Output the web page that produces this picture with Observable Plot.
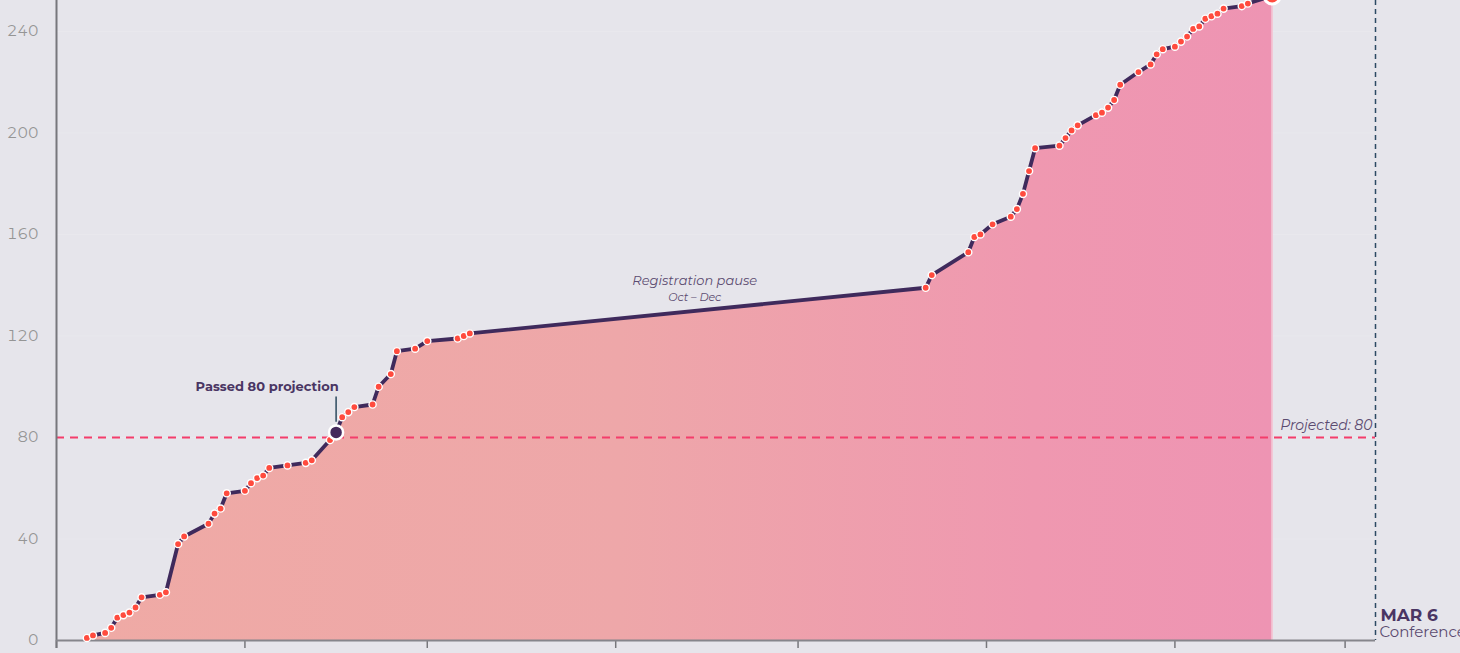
<!DOCTYPE html>
<html>
<head>
<meta charset="utf-8">
<script src="https://cdn.jsdelivr.net/npm/d3@7"></script>
<script src="https://cdn.jsdelivr.net/npm/@observablehq/plot@0.6"></script>
<style>
  html, body { margin: 0; padding: 0; background: #e6e5eb; overflow: hidden; }
  #chart { width: 1460px; height: 653px; }
</style>
</head>
<body>
<div id="chart"></div>
<script>
// Registration dates and cumulative counts
const dates = [
  "2024-08-06","2024-08-07","2024-08-09","2024-08-10","2024-08-11","2024-08-12","2024-08-13","2024-08-14","2024-08-15",
  "2024-08-18","2024-08-19","2024-08-21","2024-08-22","2024-08-26","2024-08-27","2024-08-28","2024-08-29",
  "2024-09-01","2024-09-02","2024-09-03","2024-09-04","2024-09-05","2024-09-08","2024-09-11","2024-09-12",
  "2024-09-15","2024-09-16","2024-09-17","2024-09-18","2024-09-19","2024-09-22","2024-09-23","2024-09-25",
  "2024-09-26","2024-09-29","2024-10-01","2024-10-06","2024-10-07","2024-10-08",
  "2024-12-22","2024-12-23","2024-12-29","2024-12-30","2024-12-31",
  "2025-01-02","2025-01-05","2025-01-06","2025-01-07","2025-01-08","2025-01-09","2025-01-13","2025-01-14",
  "2025-01-15","2025-01-16","2025-01-19","2025-01-20","2025-01-21","2025-01-22","2025-01-23","2025-01-26",
  "2025-01-28","2025-01-29","2025-01-30","2025-02-01","2025-02-02","2025-02-03","2025-02-04","2025-02-05",
  "2025-02-06","2025-02-07","2025-02-08","2025-02-09","2025-02-12","2025-02-13","2025-02-17"
];
const counts = [
  1,2,3,5,9,10,11,13,17,
  18,19,38,41,46,50,52,58,
  59,62,64,65,68,69,70,71,
  79,82,88,90,92,93,100,105,
  114,115,118,119,120,121,
  139,144,153,159,160,
  164,167,170,176,185,194,195,198,
  201,203,207,208,210,213,219,224,
  227,231,233,234,236,238,241,242,
  245,246,247,249,250,251,254
];
const yTicks = [0, 40, 80, 120, 160, 200, 240];
const xTicks = ["2024-08-01","2024-09-01","2024-10-01","2024-11-01","2024-12-01","2025-01-01","2025-02-01","2025-03-01"];
const projected = 80;
const passedDate = "2024-09-16";
const passedValue = 82;
const conferenceDate = "2025-03-06";
const startDate = "2024-08-01";
const pauseLabelDate = "2024-11-14";

const data = dates.map((d, i) => ({date: new Date(d), count: counts[i]}));
const last = data[data.length - 1];

const font = "Montserrat, Inter, 'Open Sans', sans-serif";

const gradientDefs = () => {
  const defs = d3.create("svg:defs");
  const g = defs.append("linearGradient").attr("id", "areaGrad").attr("x1", "0").attr("x2", "1").attr("y1", "0").attr("y2", "0");
  g.append("stop").attr("offset", "0%").attr("stop-color", "#efaaa5");
  g.append("stop").attr("offset", "45%").attr("stop-color", "#eea7a9");
  g.append("stop").attr("offset", "80%").attr("stop-color", "#ef98b0");
  g.append("stop").attr("offset", "100%").attr("stop-color", "#ee94b3");
  return defs.node();
};

const chart = Plot.plot({
  width: 1460,
  height: 653,
  marginLeft: 56,
  marginRight: 85,
  marginTop: 0,
  marginBottom: 13,
  style: {background: "#e6e5eb", fontFamily: font, overflow: "hidden"},
  x: {type: "utc", domain: [new Date(startDate), new Date(conferenceDate)]},
  y: {domain: [0, 252.2]},
  marks: [
    gradientDefs,
    Plot.gridY(yTicks, {stroke: "#ffffff", strokeOpacity: 0.14, strokeWidth: 1}),
    Plot.areaY(data, {x: "date", y: "count", fill: "url(#areaGrad)"}),
    Plot.ruleX([last.date], {y1: 0, y2: last.count, stroke: "#f4c6d4", strokeWidth: 1.5}),
    Plot.ruleY([projected], {stroke: "#f43d6b", strokeWidth: 2, strokeDasharray: "8,6"}),
    Plot.ruleX([new Date(conferenceDate)], {stroke: "#2c4a63", strokeWidth: 1.5, strokeDasharray: "5,4"}),
    Plot.axisY(yTicks, {tickSize: 0, tickPadding: 18, fontSize: 15, color: "#959595", label: null, fill: "#959595"}),
    Plot.ruleX([new Date(startDate)], {stroke: "#77777c", strokeWidth: 2, insetBottom: -8}),
    Plot.axisX(xTicks.map(d => new Date(d)), {tickSize: 8, stroke: "#77777c", strokeWidth: 1.5, tickFormat: () => "", label: null}),
    Plot.ruleY([0], {stroke: "#86868c", strokeWidth: 2}),
    Plot.lineY(data, {x: "date", y: "count", stroke: "#3f2a5c", strokeWidth: 3.8, strokeLinejoin: "round", strokeLinecap: "round"}),
    Plot.dot(data, {x: "date", y: "count", r: 3.6, fill: "#ff4b3e", stroke: "#ffffff", strokeWidth: 1.4}),
    Plot.dot([last], {x: "date", y: "count", r: 8, fill: "#ff4b3e", stroke: "#ffffff", strokeWidth: 3}),
    Plot.ruleX([new Date(passedDate)], {y1: 86, y2: 96, stroke: "#2c4a5f", strokeWidth: 1.5}),
    Plot.dot([{date: new Date(passedDate), count: passedValue}], {x: "date", y: "count", r: 7, fill: "#44295c", stroke: "#ffffff", strokeWidth: 2.5}),
    Plot.text(["Passed 80 projection"], {x: new Date(passedDate), y: 100, dx: -69, text: d => d, fontSize: 13, fontWeight: "bold", fill: "#4a3563"}),
    Plot.text(["Registration pause"], {x: new Date(pauseLabelDate), y: 141.9, text: d => d, fontSize: 13, fontStyle: "italic", fill: "#5b4b70"}),
    Plot.text(["Oct – Dec"], {x: new Date(pauseLabelDate), y: 135.2, text: d => d, fontSize: 11, fontStyle: "italic", fill: "#5b4b70"}),
    Plot.text(["Projected: 80"], {x: new Date(conferenceDate), y: projected, dx: -3, dy: -12, text: d => d, textAnchor: "end", fontSize: 14, fontStyle: "italic", fill: "#5b4b70"}),
    Plot.text(["MAR 6"], {x: new Date(conferenceDate), y: 9.9, dx: 5, text: d => d, textAnchor: "start", fontSize: 17, fontWeight: "bold", fill: "#4a3563"}),
    Plot.text(["Conference"], {x: new Date(conferenceDate), y: 3.1, dx: 4, text: d => d, textAnchor: "start", fontSize: 15, fill: "#5b4b70"})
  ]
});

document.getElementById("chart").appendChild(chart);
</script>
</body>
</html>
